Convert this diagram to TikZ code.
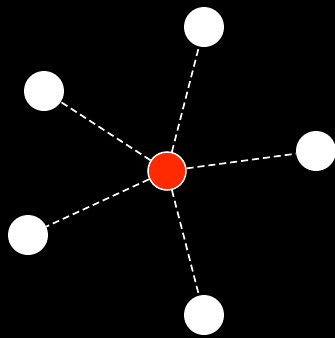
\documentclass[tikz,border=0pt]{standalone}
\begin{document}
\begin{tikzpicture}[x=1pt,y=-1pt,
  leaf/.style={circle,fill=white,minimum size=40pt,inner sep=0pt},
  hub/.style={circle,fill={rgb,255:red,255;green,42;blue,0},draw=white,line width=1.5pt,minimum size=38pt,inner sep=0pt},
  link/.style={draw=white,line width=1.7pt,dash pattern=on 7pt off 4pt}]
\fill[black] (0,0) rectangle (335,338);
\useasboundingbox (0,0) rectangle (335,338);
\node[leaf] (n1) at (204,27) {};
\node[leaf] (n2) at (44,91) {};
\node[leaf] (n3) at (316,151) {};
\node[leaf] (n4) at (28,235) {};
\node[leaf] (n5) at (204,315) {};
\node[hub] (c) at (167,171) {};
\foreach \n in {n1,n2,n3,n4,n5} \path[link] (c) -- (\n);
\end{tikzpicture}
\end{document}
